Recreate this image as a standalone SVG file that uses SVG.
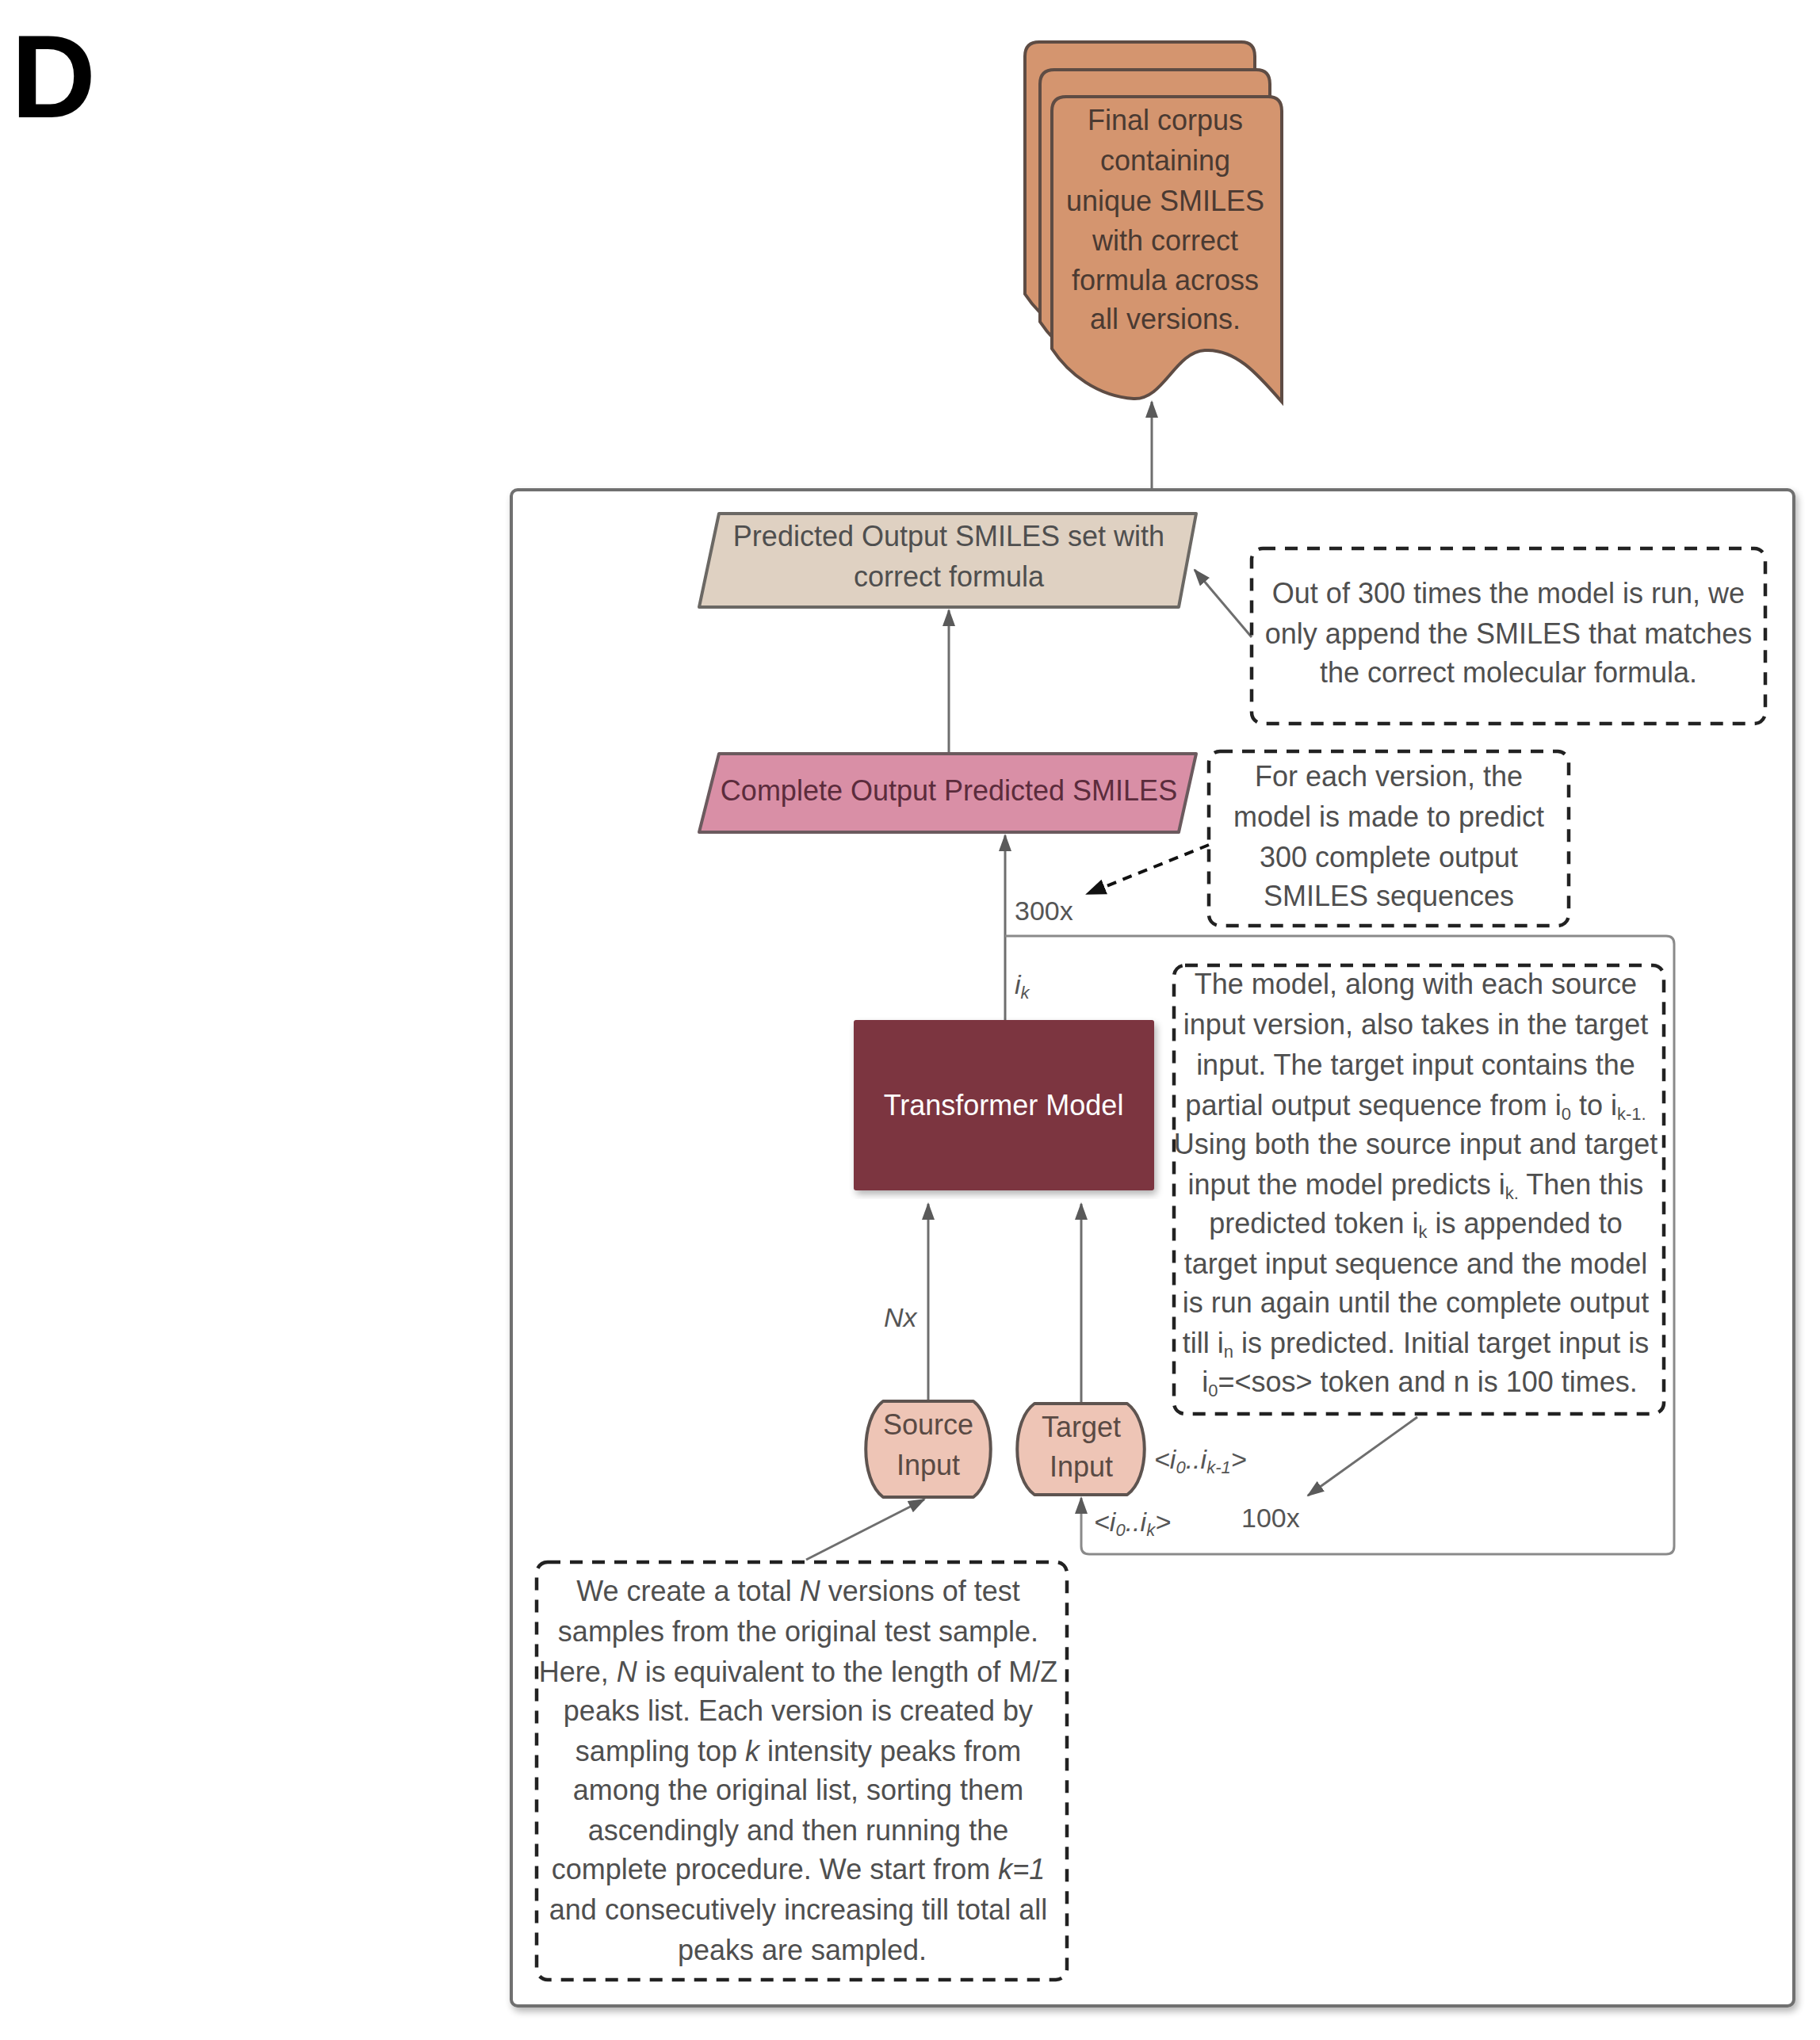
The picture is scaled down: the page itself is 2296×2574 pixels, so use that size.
<svg xmlns="http://www.w3.org/2000/svg" width="2296" height="2574" viewBox="0 0 2296 2574">
<defs>
<style>
.t{font-family:"Liberation Sans",Arial,sans-serif;font-size:36px;fill:#4f4f4f;text-anchor:middle}
.lbl{font-family:"Liberation Sans",Arial,sans-serif;font-size:34px;fill:#555}
.conn{fill:none;stroke:#6e6e6e;stroke-width:3}
.dash{fill:none;stroke:#222;stroke-width:4.5;stroke-dasharray:16 12}
.sub{font-size:22px}
.inp{fill:#eec5b6;stroke:#5e5450;stroke-width:4}
</style>
<marker id="ag" markerUnits="userSpaceOnUse" markerWidth="22" markerHeight="16" refX="20" refY="8" orient="auto">
<path d="M0,0 L22,8 L0,16 z" fill="#5a5a5a"/>
</marker>
<marker id="ab" markerUnits="userSpaceOnUse" markerWidth="26" markerHeight="20" refX="24" refY="10" orient="auto">
<path d="M0,0 L26,10 L0,20 z" fill="#111"/>
</marker>
<filter id="sh" x="-5%" y="-5%" width="110%" height="110%">
<feGaussianBlur in="SourceAlpha" stdDeviation="5"/>
<feOffset dx="3" dy="5"/>
<feComponentTransfer><feFuncA type="linear" slope="0.3"/></feComponentTransfer>
<feMerge><feMergeNode/><feMergeNode in="SourceGraphic"/></feMerge>
</filter>
<path id="docshape" d="M1327,140 Q1327,122 1345,122 L1600,122 Q1617,122 1617,140 L1617,507 C1585,470 1558,440 1520,442 C1482,444 1468,505 1430,503 C1385,500 1348,472 1327,440 Z"/>
</defs>
<rect width="2296" height="2574" fill="#ffffff"/>
<text x="14" y="148" font-family="Liberation Sans,Arial,sans-serif" font-weight="bold" font-size="148" fill="#000">D</text>

<g id="container">
<rect x="645" y="618" width="1618" height="1913" rx="8" fill="#fff" stroke="#6f6f6f" stroke-width="4" filter="url(#sh)"/>
</g>

<g id="connectors">
<path class="conn" d="M1453,618 L1453,507" marker-end="url(#ag)"/>
<path class="conn" d="M1197,951 L1197,770" marker-end="url(#ag)"/>
<path class="conn" d="M1579,804 L1507,719" marker-end="url(#ag)"/>
<path d="M1525,1066 L1371,1128" fill="none" stroke="#111" stroke-width="4" stroke-dasharray="12 9" marker-end="url(#ab)"/>
<path class="conn" d="M1268,1287 L1268,1054" marker-end="url(#ag)"/>
<path d="M1268,1181 L2102,1181 Q2112,1181 2112,1191 L2112,1951 Q2112,1961 2102,1961 L1374,1961 Q1364,1961 1364,1951 L1364,1890" fill="none" stroke="#8a8a8a" stroke-width="3" marker-end="url(#ag)"/>
<path class="conn" d="M1171,1768 L1171,1519" marker-end="url(#ag)"/>
<path class="conn" d="M1364,1771 L1364,1519" marker-end="url(#ag)"/>
<path class="conn" d="M1788,1788 L1650,1887" marker-end="url(#ag)"/>
<path class="conn" d="M1017,1968 L1166,1892" marker-end="url(#ag)"/>
</g>

<g id="final-corpus">
<use href="#docshape" transform="translate(-34,-69)" fill="#d4956f" stroke="#5e4c44" stroke-width="4"/>
<use href="#docshape" transform="translate(-15,-34)" fill="#d4956f" stroke="#5e4c44" stroke-width="4"/>
<use href="#docshape" fill="#d4956f" stroke="#5e4c44" stroke-width="4"/>
<text class="t" style="fill:#4a3a32"><tspan x="1470" y="164">Final corpus</tspan><tspan x="1470" y="215">containing</tspan><tspan x="1470" y="266">unique SMILES</tspan><tspan x="1470" y="316">with correct</tspan><tspan x="1470" y="366">formula across</tspan><tspan x="1470" y="415">all versions.</tspan></text>
</g>

<g id="predicted-output">
<path d="M907,648 L1509,648 L1487,766 L882,766 Z" fill="#dfd1c2" stroke="#6b6864" stroke-width="4" stroke-linejoin="round"/>
<text class="t"><tspan x="1197" y="689">Predicted Output SMILES set with</tspan><tspan x="1197" y="740">correct formula</tspan></text>
</g>

<g id="note-300-times">
<rect x="1579" y="692" width="648" height="221" rx="14" class="dash"/>
<text class="t"><tspan x="1903" y="761">Out of 300 times the model is run, we</tspan><tspan x="1903" y="812">only append the SMILES that matches</tspan><tspan x="1903" y="861">the correct molecular formula.</tspan></text>
</g>

<g id="complete-output">
<path d="M907,951 L1509,951 L1487,1050 L882,1050 Z" fill="#d98fa6" stroke="#6b5a5e" stroke-width="4" stroke-linejoin="round"/>
<text class="t" style="fill:#5b2c3c" x="1197" y="1010">Complete Output Predicted SMILES</text>
</g>

<g id="note-each-version">
<rect x="1525" y="948" width="454" height="220" rx="14" class="dash"/>
<text class="t"><tspan x="1752" y="992">For each version, the</tspan><tspan x="1752" y="1043">model is made to predict</tspan><tspan x="1752" y="1094">300 complete output</tspan><tspan x="1752" y="1143">SMILES sequences</tspan></text>
</g>

<g id="labels">
<text class="lbl" x="1280" y="1161">300x</text>
<text class="lbl" x="1280" y="1254" font-style="italic">i<tspan class="sub" dy="6">k</tspan></text>
<text class="lbl" x="1115" y="1674" font-style="italic">Nx</text>
<text class="lbl" x="1456" y="1853" font-size="32" font-style="italic">&lt;i<tspan class="sub" dy="6">0</tspan><tspan dy="-6">..i</tspan><tspan class="sub" dy="6">k-1</tspan><tspan dy="-6">&gt;</tspan></text>
<text class="lbl" x="1380" y="1932" font-size="32" font-style="italic">&lt;i<tspan class="sub" dy="6">0</tspan><tspan dy="-6">..i</tspan><tspan class="sub" dy="6">k</tspan><tspan dy="-6">&gt;</tspan></text>
<text class="lbl" x="1566" y="1927">100x</text>
</g>

<g id="transformer">
<rect x="1077" y="1287" width="379" height="215" rx="3" fill="#7b3441" filter="url(#sh)"/>
<text class="t" style="fill:#ffffff" x="1266" y="1407">Transformer Model</text>
</g>

<g id="note-model">
<rect x="1481" y="1218" width="618" height="566" rx="14" class="dash"/>
<text class="t">
<tspan x="1791" y="1254">The model, along with each source</tspan>
<tspan x="1791" y="1305">input version, also takes in the target</tspan>
<tspan x="1791" y="1356">input. The target input contains the</tspan>
<tspan x="1791" y="1407">partial output sequence from i<tspan class="sub" dy="6">0</tspan><tspan dy="-6"> to i</tspan><tspan class="sub" dy="6">k-1.</tspan></tspan>
<tspan x="1791" y="1456">Using both the source input and target</tspan>
<tspan x="1791" y="1507">input the model predicts i<tspan class="sub" dy="6">k.</tspan><tspan dy="-6"> Then this</tspan></tspan>
<tspan x="1791" y="1556">predicted token i<tspan class="sub" dy="6">k</tspan><tspan dy="-6"> is appended to</tspan></tspan>
<tspan x="1791" y="1607">target input sequence and the model</tspan>
<tspan x="1791" y="1656">is run again until the complete output</tspan>
<tspan x="1791" y="1707">till i<tspan class="sub" dy="6">n</tspan><tspan dy="-6"> is predicted. Initial target input is</tspan></tspan>
<tspan x="1791" y="1756">i<tspan class="sub" dy="6">0</tspan><tspan dy="-6">=&lt;sos&gt; token and n is 100 times.</tspan></tspan>
</text>
</g>

<g id="source-input">
<path class="inp" d="M1114,1768 L1228,1768 C1257,1790 1257,1867 1228,1889 L1114,1889 C1085,1867 1085,1790 1114,1768 Z" stroke-linejoin="round"/>
<text class="t" style="fill:#5a4a44"><tspan x="1171" y="1810">Source</tspan><tspan x="1171" y="1861">Input</tspan></text>
</g>

<g id="target-input">
<path class="inp" d="M1305,1771 L1422,1771 C1451,1792 1451,1865 1422,1886 L1305,1886 C1276,1865 1276,1792 1305,1771 Z" stroke-linejoin="round"/>
<text class="t" style="fill:#5a4a44"><tspan x="1364" y="1813">Target</tspan><tspan x="1364" y="1863">Input</tspan></text>
</g>

<g id="note-versions">
<rect x="677" y="1971" width="669" height="527" rx="14" class="dash"/>
<text class="t">
<tspan x="1012" y="2020">We create a total <tspan font-style="italic">N</tspan> versions of test</tspan>
<tspan x="1012" y="2071">samples from the original test sample.</tspan>
<tspan x="1012" y="2122">Here, <tspan font-style="italic">N</tspan> is equivalent to the length of M/Z</tspan>
<tspan x="1012" y="2171">peaks list. Each version is created by</tspan>
<tspan x="1012" y="2222">sampling top <tspan font-style="italic">k</tspan> intensity peaks from</tspan>
<tspan x="1012" y="2271">among the original list, sorting them</tspan>
<tspan x="1012" y="2322">ascendingly and then running the</tspan>
<tspan x="1012" y="2371">complete procedure. We start from <tspan font-style="italic">k=1</tspan></tspan>
<tspan x="1012" y="2422">and consecutively increasing till total all</tspan>
<tspan x="1012" y="2473">peaks are sampled.</tspan>
</text>
</g>
</svg>
